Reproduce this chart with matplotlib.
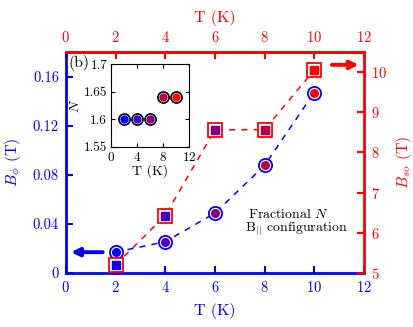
import numpy as np
import matplotlib.pyplot as plt

plt.rcParams['font.family'] = 'serif'
plt.rcParams['font.serif'] = ['cmr10']
plt.rcParams['mathtext.fontset'] = 'cm'
plt.rcParams['axes.formatter.use_mathtext'] = True

# data
T = [2, 4, 6, 8, 10]
B_phi = [0.017, 0.0255, 0.0487, 0.0877, 0.147]
B_so = [5.2, 6.43, 8.56, 8.57, 10.05]
N_frac = [1.6, 1.6, 1.6, 1.64, 1.64]
point_colors = ['#0000ff', '#4a00c8', '#800080', '#b8004a', '#ff0000']

blue = '#0000ff'
red = '#ff0000'

fig = plt.figure(figsize=(4.14, 3.27), dpi=100)
ax = fig.add_axes([0.159, 0.165, 0.72, 0.676])
ax2 = ax.twinx()

# dashed guides
ax.plot(T, B_phi, '--', color=blue, lw=1.1, dashes=(4, 4), zorder=1)
ax2.plot(T, B_so, '--', color=red, lw=1.1, dashes=(4, 4), zorder=1)

for t, b, s, c in zip(T, B_phi, B_so, point_colors):
    ax.plot(t, b, 'o', ms=9.5, mfc='white', mec=blue, mew=1.3, zorder=3)
    ax.plot(t, b, 'o', ms=5.5, mfc=c, mec=c, zorder=4)
    ax2.plot(t, s, 's', ms=9.5, mfc='white', mec=red, mew=1.3, zorder=3)
    ax2.plot(t, s, 's', ms=5.5, mfc=c, mec=c, zorder=4)

ax.set_xlim(0, 12)
ax.set_ylim(0, 0.18)
ax2.set_ylim(5, 10.5)
ax.set_xticks(np.arange(0, 13, 2))
ax.set_yticks([0, 0.04, 0.08, 0.12, 0.16])
ax.set_yticklabels(['0', '0.04', '0.08', '0.12', '0.16'])
ax2.set_yticks([5, 6, 7, 8, 9, 10])

ax.tick_params(axis='both', direction='in', length=5, width=1.5, colors=blue, labelsize=10.5, pad=5)
ax2.tick_params(axis='y', direction='in', length=5, width=1.5, colors=red, labelsize=10.5, pad=5)

ax.spines['left'].set_color(blue)
ax.spines['bottom'].set_color(blue)
ax.spines['top'].set_visible(False)
ax.spines['right'].set_visible(False)
for sp in ['left', 'bottom']:
    ax.spines[sp].set_linewidth(2)
    ax2.spines[sp].set_visible(False)
for sp in ['top', 'right']:
    ax2.spines[sp].set_color(red)
    ax2.spines[sp].set_linewidth(2)

secax = ax.secondary_xaxis('top')
secax.set_xticks(np.arange(0, 13, 2))
secax.tick_params(direction='in', length=5, width=1.5, colors=red, labelsize=10.5, pad=5)
secax.spines['top'].set_color(red)
secax.spines['top'].set_linewidth(2)
secax.set_xlabel('T (K)', color=red, fontsize=11.5, labelpad=6)

ax.set_xlabel('T (K)', color=blue, fontsize=11.5, labelpad=6)
ax.set_ylabel(r'$B_\phi$ (T)', color=blue, fontsize=11.5, labelpad=6)
ax2.set_ylabel(r'$B_{so}$ (T)', color=red, fontsize=11.5, labelpad=5)

# arrows
ax.annotate('', xy=(0.1, 0.017), xytext=(1.6, 0.017),
            arrowprops=dict(arrowstyle='-|>', lw=2.8, color=blue, mutation_scale=12))
ax2.annotate('', xy=(11.9, 10.18), xytext=(10.6, 10.18),
             arrowprops=dict(arrowstyle='-|>', lw=2.8, color=red, mutation_scale=12))

ax.text(0.01, 0.985, '(b)', transform=ax.transAxes, va='top', ha='left', fontsize=11.5)
ax2.text(7.35, 6.47, 'Fractional $N$', fontsize=10, ha='left', va='center')
ax2.text(7.2, 6.08, r'B$_{||}$ configuration', fontsize=10, ha='left', va='center')

# inset
axin = fig.add_axes([0.269, 0.551, 0.187, 0.253])
for t, n, c in zip(T, N_frac, point_colors):
    axin.plot(t, n, 'o', ms=8, mfc='white', mec='black', mew=1.2)
    axin.plot(t, n, 'o', ms=5, mfc=c, mec=c)
axin.set_xlim(0, 12)
axin.set_ylim(1.55, 1.7)
axin.set_xticks([0, 4, 8, 12])
axin.set_yticks([1.55, 1.6, 1.65, 1.7])
axin.set_yticklabels(['1.55', '1.6', '1.65', '1.7'])
axin.tick_params(direction='in', length=3, labelsize=9.5, top=True, right=True, pad=3)
axin.set_xlabel('T (K)', fontsize=10, labelpad=0)
axin.set_ylabel('$N$', fontsize=10, labelpad=1)

plt.savefig('out.png', dpi=100)
